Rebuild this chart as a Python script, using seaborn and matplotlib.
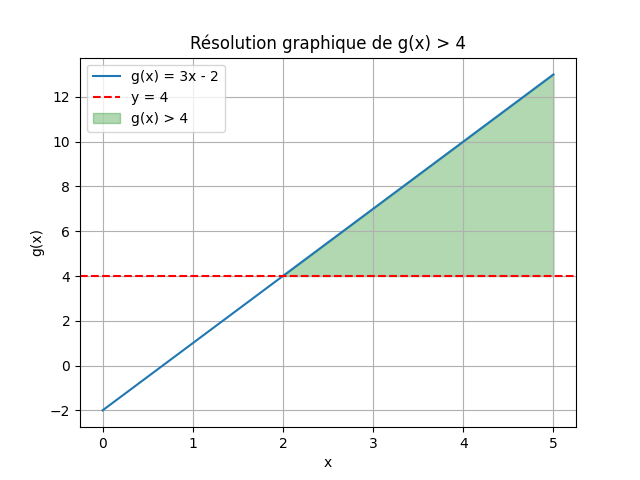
import matplotlib
matplotlib.use("Agg")
import matplotlib.pyplot as plt
import seaborn as sns
import numpy as np

# data
x_vals = np.array([0, 2, 5])
g_vals = np.array([-2, 4, 13])
seuil = 4

fig, ax = plt.subplots(figsize=(6.4, 4.8), dpi=100)

sns.lineplot(x=x_vals, y=g_vals, ax=ax, color="#1f77b4", label="g(x) = 3x - 2")
ax.axhline(seuil, color="red", linestyle="--", label="y = 4")
ax.fill_between(x_vals, g_vals, seuil, where=g_vals >= seuil,
                color="green", alpha=0.3, label="g(x) > 4")

ax.set_title("Résolution graphique de g(x) > 4")
ax.set_xlabel("x")
ax.set_ylabel("g(x)")
ax.grid(True)
ax.legend(loc="upper left")

plt.savefig("out.png")
